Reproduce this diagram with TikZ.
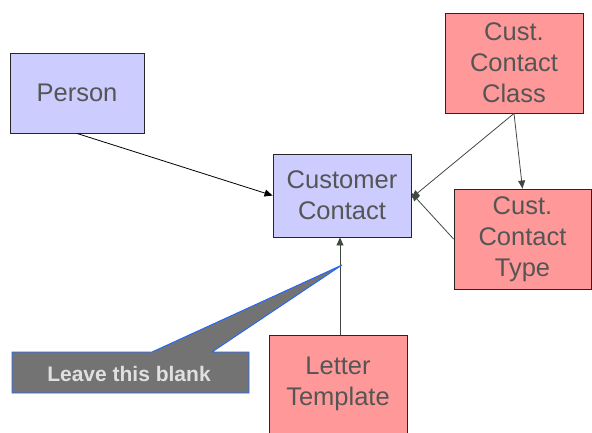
\documentclass[tikz,border=0pt]{standalone}
\usepackage{fontspec}
\setmainfont{Liberation Sans}
\usetikzlibrary{arrows.meta}
\definecolor{entblue}{HTML}{CCCCFF}
\definecolor{entred}{HTML}{FF9999}
\definecolor{txtgray}{HTML}{555555}
\definecolor{linegray}{HTML}{404840}
\definecolor{callfill}{HTML}{737373}
\definecolor{callline}{HTML}{1F66FF}
\definecolor{calltext}{HTML}{E0E0E0}
\tikzset{
  ent/.style={draw=black!85, line width=0.9pt, align=center, inner sep=0pt,
    text=txtgray, font=\fontsize{25.5}{31}\selectfont},
  blueent/.style={ent, fill=entblue},
  redent/.style={ent, fill=entred},
  rel/.style={draw=linegray, line width=0.8pt, -{Triangle[length=8pt,width=7pt]}},
}
\begin{document}
\begin{tikzpicture}[x=1pt,y=-1pt]
\useasboundingbox (0,0) rectangle (592,432);
\clip (0,0) rectangle (592,432);
\node[blueent, minimum width=134pt, minimum height=80pt] (person) at (77,93) {Person};
\node[blueent, minimum width=138pt, minimum height=83pt] (cc) at (342,195.5) {Customer\\Contact};
\node[redent, minimum width=138pt, minimum height=100pt] (class) at (514,63) {Cust.\\Contact\\Class};
\node[redent, minimum width=137pt, minimum height=100pt] (type) at (522.5,239) {Cust.\\Contact\\Type};
\node[redent, minimum width=138pt, minimum height=104pt, text depth=0pt] (letter) at (338,387) {};
\node[text=txtgray, font=\fontsize{25.5}{31}\selectfont, align=center] (lettertext) at (338,384) {Letter\\Template};
\draw[rel, draw=black] (person.south) -- (cc.west);
\draw[rel] (class.south) -- ([yshift=-2.5pt]cc.east);
\draw[rel] (class.south) -- (type.north);
\draw[rel] (type.west) -- ([yshift=2.5pt]cc.east);
\draw[rel] (letter.north -| 340,0) -- (340,0 |- cc.south);
\coordinate (tip) at (342,265);
\draw[fill=callfill, draw=callline, line width=0.9pt]
  (12,352) -- (152,352) -- (tip) -- (212,352) -- (249,352) -- (249,393) -- (12,393) -- cycle;
\node[text=calltext, font=\bfseries\fontsize{21}{24}\selectfont] (callout) at (129,374) {Leave this blank};
\end{tikzpicture}
\end{document}
